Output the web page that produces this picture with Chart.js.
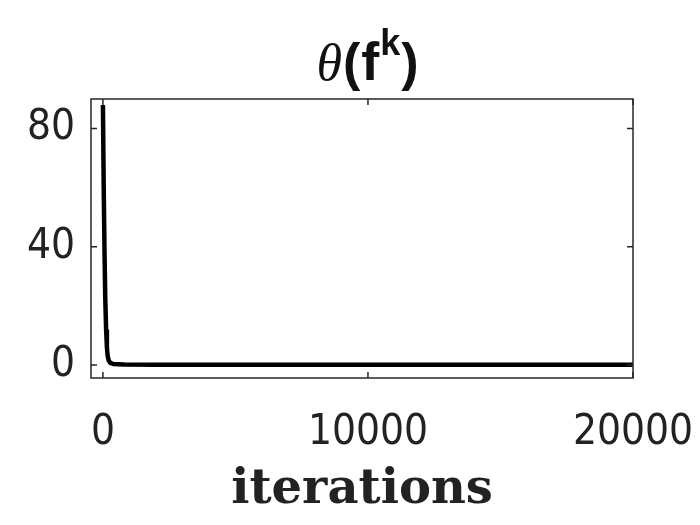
<!DOCTYPE html>
<html><head><meta charset="utf-8">
<script src="https://cdn.jsdelivr.net/npm/chart.js@4.4.0/dist/chart.umd.min.js"></script>
<style>html,body{margin:0;padding:0;background:#fff}#wrap{width:700px;height:525px}</style>
</head><body><div id="wrap"><canvas id="c" width="700" height="525"></canvas></div>
<script>
const iterations = [0, 30, 60, 90, 120, 150, 180, 220, 280, 400, 800, 2000, 5000, 10000, 15000, 20000];
const thetaValues = [88, 60, 38, 22, 12, 6, 3, 1.5, 0.7, 0.3, 0.15, 0.1, 0.08, 0.06, 0.05, 0.05];
const xTicks = [0, 10000, 20000];
const yTicks = [0, 40, 80];
const xTitle = 'iterations';
const titleParts = [
  {t: 'θ', font: 'italic 52px "Liberation Serif"', dy: 0},
  {t: '(', font: 'bold 52px "Liberation Sans"', dy: 0},
  {t: 'f', font: 'bold 54px "Liberation Sans"', dy: 0},
  {t: 'k', font: 'bold 36px "Liberation Sans"', dy: -25},
  {t: ')', font: 'bold 52px "Liberation Sans"', dy: 0}
];
const tickFont = {family: '"Liberation Sans Narrow", "DejaVu Sans Condensed", Lato', size: 42};

const decor = {
  id: 'decor',
  afterDraw(chart) {
    const {ctx, chartArea: a, scales: {x, y}} = chart;
    ctx.save();
    ctx.strokeStyle = '#262626';
    ctx.lineWidth = 1.5;
    ctx.strokeRect(a.left, a.top, a.right - a.left, a.bottom - a.top);
    const L = 6;
    ctx.beginPath();
    xTicks.forEach(v => {
      const px = x.getPixelForValue(v);
      ctx.moveTo(px, a.bottom); ctx.lineTo(px, a.bottom - L);
      ctx.moveTo(px, a.top); ctx.lineTo(px, a.top + L);
    });
    yTicks.forEach(v => {
      const py = y.getPixelForValue(v);
      ctx.moveTo(a.left, py); ctx.lineTo(a.left + L, py);
      ctx.moveTo(a.right, py); ctx.lineTo(a.right - L, py);
    });
    ctx.stroke();
    ctx.fillStyle = '#111';
    ctx.textBaseline = 'alphabetic';
    ctx.textAlign = 'left';
    let total = 0;
    titleParts.forEach(p => { ctx.font = p.font; p.w = ctx.measureText(p.t).width; total += p.w + 1; });
    let cx = (a.left + a.right) / 2 + 6 - total / 2;
    const base = 80;
    titleParts.forEach(p => { ctx.font = p.font; ctx.fillText(p.t, cx, base + p.dy); cx += p.w + 1; });
    ctx.restore();
  }
};

new Chart(document.getElementById('c'), {
  type: 'line',
  data: {
    datasets: [{
      data: iterations.map((v, i) => ({x: v, y: thetaValues[i]})),
      borderColor: '#000',
      borderWidth: 4.5,
      pointRadius: 0,
      tension: 0,
      fill: false
    }]
  },
  options: {
    responsive: false,
    devicePixelRatio: 1,
    animation: false,
    layout: {padding: {top: 99, right: 67, left: 0, bottom: 0}},
    plugins: {legend: {display: false}, tooltip: {enabled: false}, title: {display: false}},
    scales: {
      x: {
        type: 'linear', min: -450, max: 20000,
        grid: {display: false, drawTicks: false}, border: {display: false},
        afterBuildTicks: s => { s.ticks = xTicks.map(v => ({value: v})); },
        afterFit: s => { s.height = 147; s.paddingLeft = 0; s.paddingRight = 0; },
        ticks: {font: tickFont, color: '#222', padding: 30, maxRotation: 0, autoSkip: false, callback: v => String(v)},
        title: {display: true, text: xTitle, color: '#222', font: {family: 'DejaVu Serif', weight: 'bold', size: 48}, padding: {top: 0, bottom: 6}}
      },
      y: {
        type: 'linear', min: -4.4, max: 90,
        grid: {display: false, drawTicks: false}, border: {display: false},
        afterBuildTicks: s => { s.ticks = yTicks.map(v => ({value: v})); },
        afterFit: s => { s.width = 91; s.paddingTop = 0; s.paddingBottom = 0; },
        ticks: {font: tickFont, color: '#222', padding: 16, callback: v => String(v)}
      }
    }
  },
  plugins: [decor]
});
</script></body></html>
